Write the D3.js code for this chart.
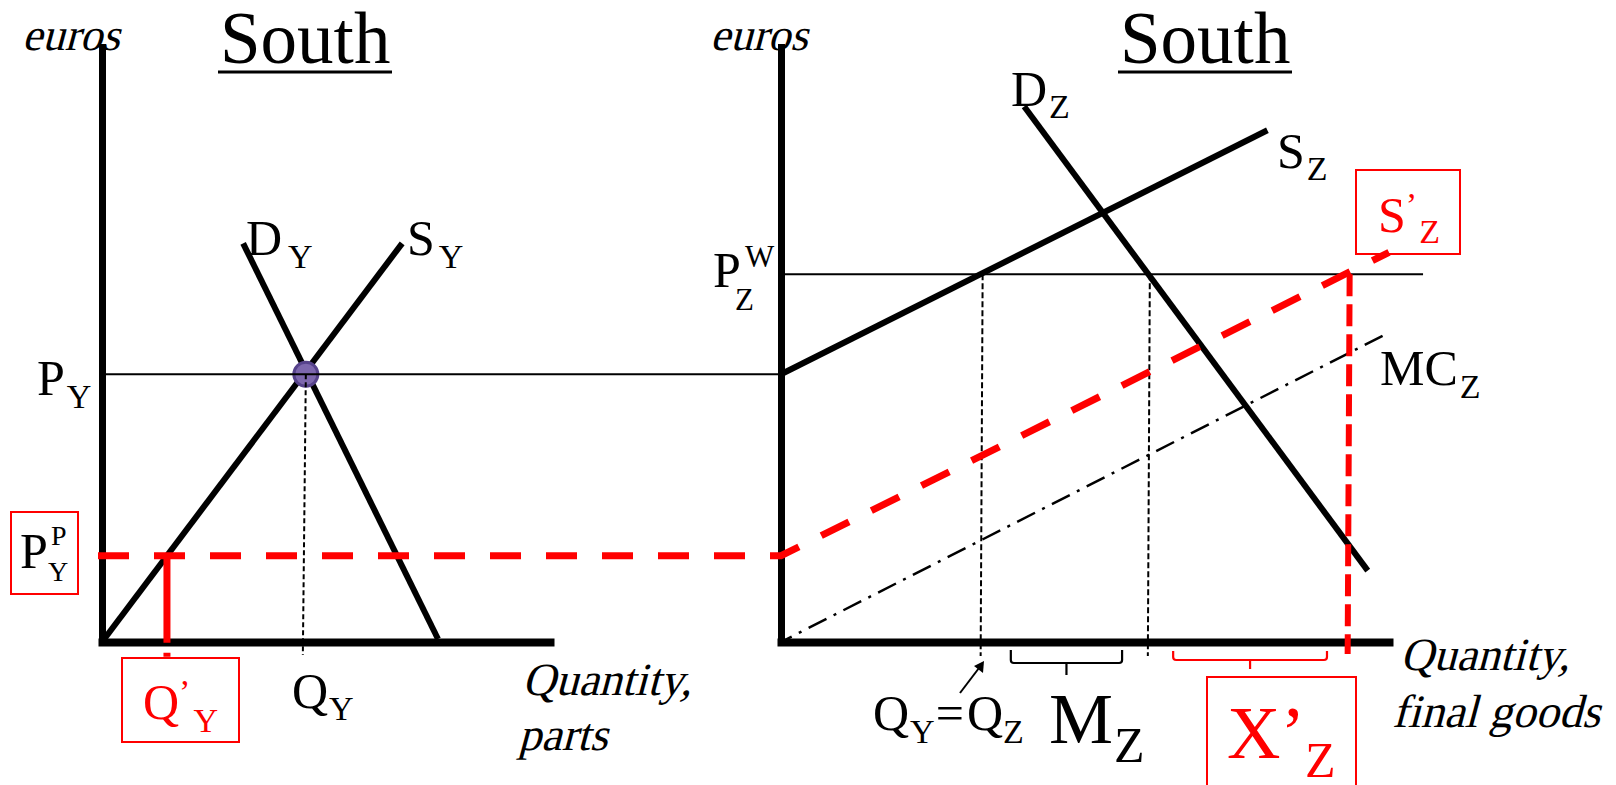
<!DOCTYPE html>
<html><head><meta charset="utf-8">
<script src="https://cdn.jsdelivr.net/npm/d3@7"></script>
<style>
html,body{margin:0;padding:0;background:#fff;}
svg{display:block;}
text{font-family:"Liberation Serif","Times New Roman",serif;}
</style></head><body>
<script>
// ---------- data (conceptual units, 0-100 on both axes) ----------
const supplyY   = [[0, 0], [67, 67]];          // S_Y
const demandY   = [[31.5, 67], [75, 0.5]];     // D_Y
const priceY    = 45;                          // P_Y
const quantityY = 45.5;                        // Q_Y
const pricePY   = 14.5;                        // P^P_Y
const quantityPY = 14.5;                       // Q'_Y

const supplyZ   = [[0, 45], [80, 86]];         // S_Z
const demandZ   = [[40, 90], [96.5, 12]];      // D_Z
const supplyPZ  = [[0, 14.5], [100, 65.5]];    // S'_Z
const mcZ       = [[0, 0], [100, 52]];         // MC_Z
const priceWZ   = 61.8;                        // P^W_Z
const priceWEnd = 105.6;
const quantityZ = 33;                          // Q_Y = Q_Z
const demandAtPW = 60.5;
const exportQ   = 93.2;                        // X'_Z right end
const importBrace = [37.8, 56.1];              // M_Z
const exportBrace = [64.5, 89.8];              // X'_Z

const titles = ["South", "South"];
const axisY = "euros";
const axisXLeft = ["Quantity,", "parts"];
const axisXRight = ["Quantity,", "final goods"];

// ---------- setup ----------
const W = 1616, H = 785;
const svg = d3.select("body").append("svg").attr("width", W).attr("height", H);
svg.append("rect").attr("width", W).attr("height", H).attr("fill", "#fff");

const xL = d3.scaleLinear([0, 100], [102, 550]);
const xR = d3.scaleLinear([0, 100], [781, 1389]);
const y  = d3.scaleLinear([0, 100], [642, 47]);
const RED = "#ff0000";

const lineL = d3.line().x(d => xL(d[0])).y(d => y(d[1]));
const lineR = d3.line().x(d => xR(d[0])).y(d => y(d[1]));

// ---------- axes ----------
function drawAxes(x) {
  const gx = svg.append("g").attr("transform", `translate(0,${y(0)})`)
    .call(d3.axisBottom(x).tickValues([]).tickSizeOuter(0));
  gx.select(".domain").attr("stroke", "#000").attr("stroke-width", 8).attr("stroke-linecap", "square");
  const gy = svg.append("g").attr("transform", `translate(${x(0)},0)`)
    .call(d3.axisLeft(y).tickValues([]).tickSizeOuter(0));
  gy.select(".domain").attr("stroke", "#000").attr("stroke-width", 7).attr("stroke-linecap", "square");
}
drawAxes(xL);
drawAxes(xR);

// ---------- left panel ----------
svg.append("path").attr("d", lineL(supplyY)).attr("stroke", "#000").attr("stroke-width", 6).attr("fill", "none");
svg.append("path").attr("d", lineL(demandY)).attr("stroke", "#000").attr("stroke-width", 6).attr("fill", "none");
svg.append("circle").attr("cx", xL(quantityY)).attr("cy", y(priceY)).attr("r", 12)
  .attr("fill", "#7d67ad").attr("stroke", "#56428b").attr("stroke-width", 3);
svg.append("line").attr("x1", xL(0)).attr("x2", xR(0)).attr("y1", y(priceY)).attr("y2", y(priceY))
  .attr("stroke", "#000").attr("stroke-width", 2);
svg.append("line").attr("x1", xL(quantityY)).attr("x2", xL(quantityY) - 3).attr("y1", y(priceY)).attr("y2", 655)
  .attr("stroke", "#000").attr("stroke-width", 2).attr("stroke-dasharray", "5 3");

// ---------- right panel ----------
svg.append("path").attr("d", lineR(supplyZ)).attr("stroke", "#000").attr("stroke-width", 6).attr("fill", "none");
svg.append("path").attr("d", lineR(demandZ)).attr("stroke", "#000").attr("stroke-width", 6).attr("fill", "none");
svg.append("path").attr("d", lineR(mcZ)).attr("stroke", "#000").attr("stroke-width", 2.5).attr("fill", "none")
  .attr("stroke-dasharray", "20 8 3 8").attr("stroke-dashoffset", 8);
svg.append("line").attr("x1", xR(0)).attr("x2", xR(priceWEnd)).attr("y1", y(priceWZ)).attr("y2", y(priceWZ))
  .attr("stroke", "#000").attr("stroke-width", 2);
[quantityZ, demandAtPW].forEach(q => {
  svg.append("line").attr("x1", xR(q) + 1).attr("x2", xR(q) - 1).attr("y1", y(priceWZ)).attr("y2", 656)
    .attr("stroke", "#000").attr("stroke-width", 2).attr("stroke-dasharray", "6 3");
});

// ---------- red dashed lines ----------
svg.append("path")
  .attr("d", d3.line()([[xL(0) - 4, y(pricePY)], [xR(supplyPZ[0][0]), y(supplyPZ[0][1])], [xR(supplyPZ[1][0]), y(supplyPZ[1][1])]]))
  .attr("stroke", RED).attr("stroke-width", 7).attr("fill", "none").attr("stroke-dasharray", "31 25");
svg.append("line").attr("x1", xL(quantityPY)).attr("x2", xL(quantityPY)).attr("y1", y(pricePY)).attr("y2", 658)
  .attr("stroke", RED).attr("stroke-width", 7).attr("stroke-dasharray", "87 10 4 60");
svg.append("line").attr("x1", xR(exportQ) + 2).attr("x2", xR(exportQ)).attr("y1", y(priceWZ)).attr("y2", 654)
  .attr("stroke", RED).attr("stroke-width", 6).attr("stroke-dasharray", "22 8");

// ---------- braces ----------
function brace(q0, q1, top, mid, tip, color) {
  const a = xR(q0), b = xR(q1), c = (a + b) / 2;
  svg.append("path")
    .attr("d", `M${a},${top} L${a},${mid - 3} Q${a},${mid} ${a + 3},${mid} L${b - 3},${mid} Q${b},${mid} ${b},${mid - 3} L${b},${top} M${c},${mid} L${c},${tip}`)
    .attr("stroke", color).attr("stroke-width", 2.2).attr("fill", "none");
}
brace(importBrace[0], importBrace[1], 650, 663, 675, "#000");
brace(exportBrace[0], exportBrace[1], 651, 660, 669, RED);

// arrow to Q_Y = Q_Z
svg.append("line").attr("x1", 960).attr("y1", 693).attr("x2", 979).attr("y2", 668).attr("stroke", "#000").attr("stroke-width", 2);
svg.append("path").attr("d", "M984,661 L983,673 L974,666 Z").attr("fill", "#000");

// ---------- text ----------
function rich(x, yb, parts, fill = "#000") {
  const t = svg.append("text").attr("x", x).attr("y", yb).attr("fill", fill);
  let cur = 0;
  parts.forEach(p => {
    const [s, size, shift = 0, dx = 0] = p;
    const ts = t.append("tspan").text(s).attr("font-size", size).attr("dy", shift - cur);
    if (dx) ts.attr("dx", dx);
    cur = shift;
  });
  return t;
}
// italic (slanted serif) text
function slanted(x, yb, s, size) {
  svg.append("text").attr("transform", `translate(${x},${yb}) skewX(-15)`)
    .attr("x", 0).attr("y", 0).attr("font-size", size).attr("fill", "#000").text(s);
}

// titles
[[220, 218, 392], [1120, 1118, 1292]].forEach((p, i) => {
  rich(p[0], 63, [[titles[i], 73]]);
  svg.append("line").attr("x1", p[1]).attr("x2", p[2]).attr("y1", 72).attr("y2", 72).attr("stroke", "#000").attr("stroke-width", 3);
});
slanted(22, 50, axisY, 45);
slanted(710, 50, axisY, 45);
slanted(522, 695, axisXLeft[0], 46);
slanted(518, 750, axisXLeft[1], 46);
slanted(1400, 670, axisXRight[0], 46);
slanted(1392, 727, axisXRight[1], 46.5);

// curve labels
rich(246, 255, [["D", 50], ["Y", 34, 13, 6]]);
rich(407, 255, [["S", 50], ["Y", 34, 13, 4]]);
rich(37, 395, [["P", 50], ["Y", 34, 13, 2]]);
rich(292, 708, [["Q", 50], ["Y", 34, 12, 1]]);
rich(1011, 106, [["D", 50], ["Z", 34, 12, 2]]);
rich(1277, 168, [["S", 50], ["Z", 34, 12, 2]]);
rich(1380, 385, [["MC", 50], ["Z", 34, 13, 2]]);
rich(873, 730, [["Q", 50], ["Y", 34, 13, 1], ["=", 50, 0, 1], ["Q", 50, 0, 3], ["Z", 34, 13, 0]]);
rich(1049, 743, [["M", 72], ["Z", 50, 19, 1]]);
// P^W_Z
rich(713, 287, [["P", 50]]);
rich(745, 267, [["W", 31]]);
rich(735, 310, [["Z", 31]]);

// red boxed labels
function box(x0, y0, x1, y1) {
  svg.append("rect").attr("x", x0).attr("y", y0).attr("width", x1 - x0).attr("height", y1 - y0)
    .attr("fill", "none").attr("stroke", RED).attr("stroke-width", 2);
}
box(11, 512, 78, 594);
rich(20, 568, [["P", 50]]);
rich(51, 545, [["P", 28]]);
rich(48, 581, [["Y", 28]]);

box(122, 658, 239, 742);
rich(143, 719, [["Q", 50], ["’", 34, -16, 0], ["Y", 34, 13, 3]], RED);

box(1356, 170, 1460, 254);
rich(1378, 232, [["S", 50], ["’", 34, -16, 0], ["Z", 34, 11, 2]], RED);

box(1207, 677, 1356, 800);
rich(1227, 758, [["X’", 74], ["Z", 50, 19, 0]], RED);
</script>
</body></html>
